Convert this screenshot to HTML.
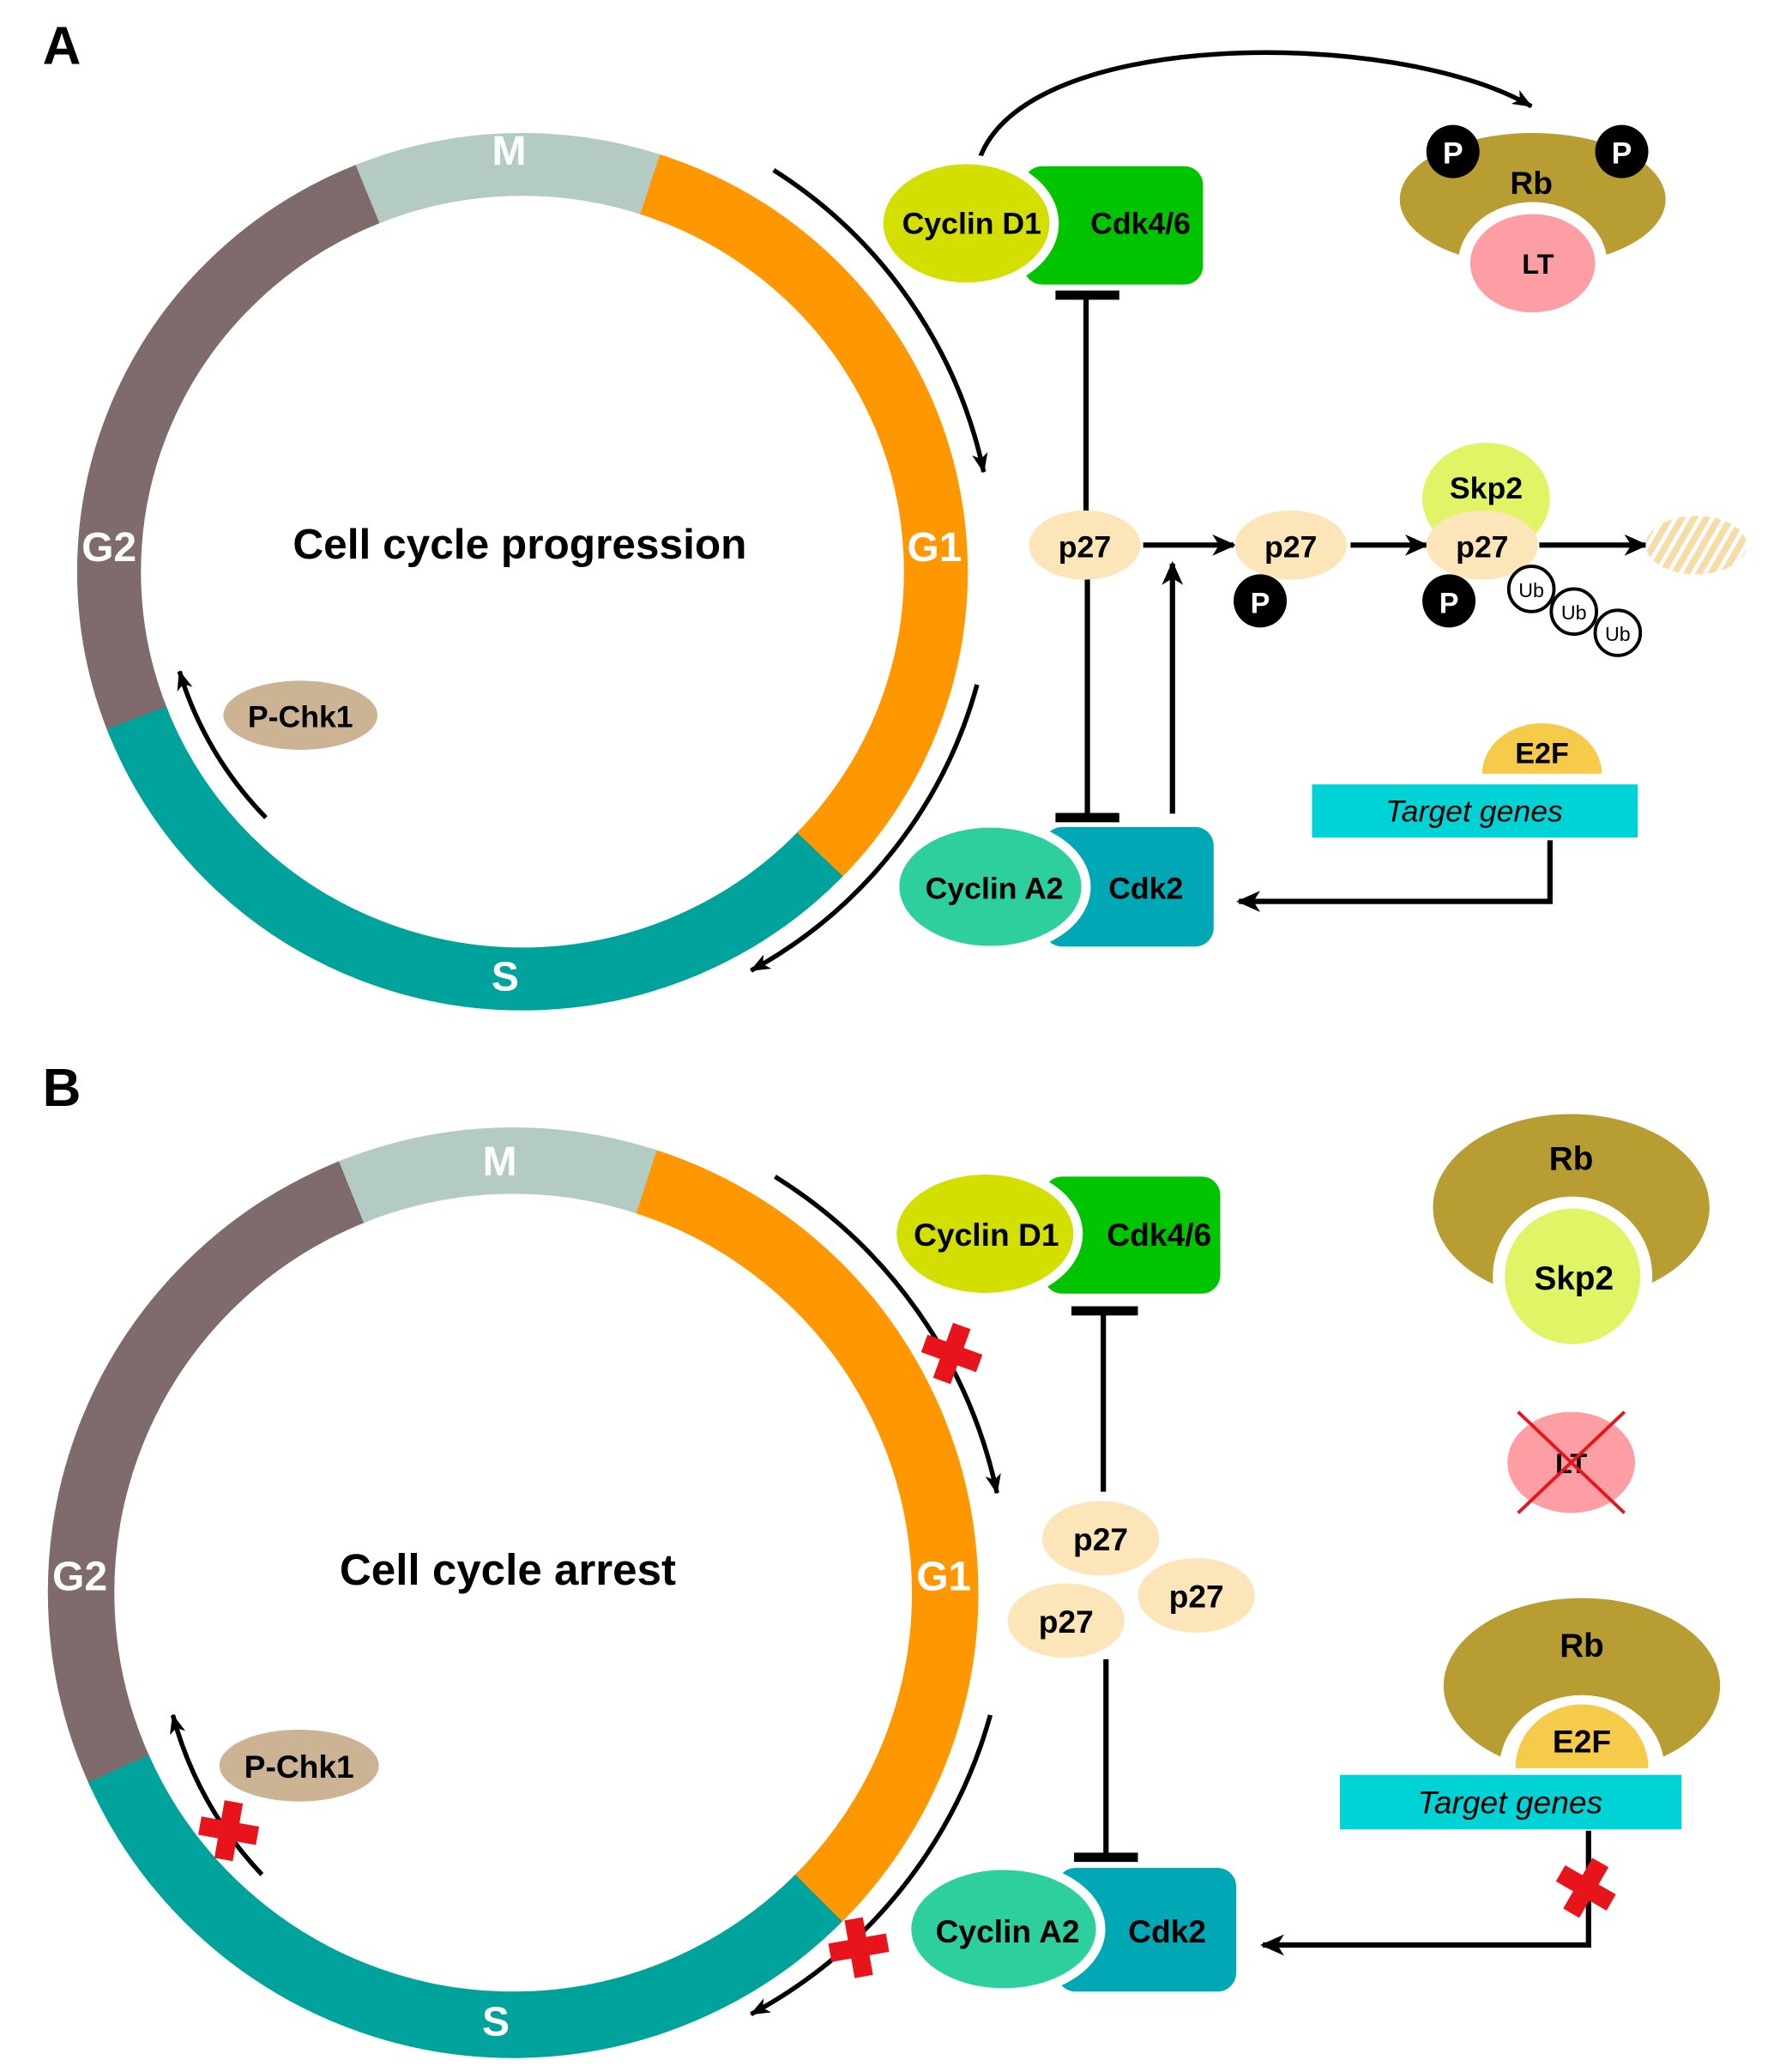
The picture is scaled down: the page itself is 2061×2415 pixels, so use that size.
<!DOCTYPE html>
<html><head><meta charset="utf-8"><style>
html,body{margin:0;padding:0;background:#fff;overflow:hidden;width:2061px;height:2415px}
svg{display:block}
text{font-family:"Liberation Sans",sans-serif;font-weight:bold}
</style></head><body>
<svg width="2061" height="2415" viewBox="0 0 1330 1558.5" xmlns="http://www.w3.org/2000/svg">
<defs>
<marker id="ah" markerUnits="userSpaceOnUse" markerWidth="22" markerHeight="22" refX="16" refY="8" orient="auto">
<path d="M0,0 L18,8 L0,16 L5,8 Z" fill="#000"/></marker>
<marker id="ah2" markerUnits="userSpaceOnUse" markerWidth="22" markerHeight="22" refX="14" refY="6" orient="auto">
<path d="M0,0 L15,6 L0,12 L4,6 Z" fill="#000"/></marker>
<pattern id="stripe" width="8" height="8" patternUnits="userSpaceOnUse" patternTransform="rotate(30)">
<rect width="8" height="8" fill="#fff"/><rect width="5" height="8" fill="#f8dca8"/></pattern>
<g id="xmark"><rect x="-7" y="-22" width="14" height="44" fill="#e8141c"/><rect x="-22" y="-7" width="44" height="14" fill="#e8141c"/></g>
</defs>
<rect width="1330" height="1558.5" fill="#fff"/>

<!-- ===== Panel A ===== -->
<text x="32" y="48" font-size="40">A</text>
<g fill="none" stroke-width="48" transform="translate(393 430) scale(1 0.985) translate(-393 -430)">
<circle cx="393" cy="430" r="311" pathLength="360" stroke="#7f6a6c" stroke-dasharray="91 360" transform="rotate(158 393 430)"/>
<circle cx="393" cy="430" r="311" pathLength="360" stroke="#00a39b" stroke-dasharray="116 360" transform="rotate(43 393 430)"/>
<circle cx="393" cy="430" r="311" pathLength="360" stroke="#ff9800" stroke-dasharray="117 360" transform="rotate(287 393 430)"/>
<circle cx="393" cy="430" r="311" pathLength="360" stroke="#b3cbc3" stroke-dasharray="40 360" transform="rotate(248 393 430)"/>
</g>
<g fill="#fff" font-size="31" text-anchor="middle">
<text x="383" y="124">M</text><text x="703" y="422">G1</text><text x="82" y="422">G2</text><text x="380" y="745">S</text></g>
<text x="391" y="420" font-size="32" text-anchor="middle">Cell cycle progression</text>
<g fill="none" stroke="#000" stroke-width="3.5">
<path d="M582,128 A356,356 0 0 1 740,355" marker-end="url(#ah2)"/>
<path d="M735,515 A350,350 0 0 1 565,730" marker-end="url(#ah2)"/>
<path d="M200,615 A268,268 0 0 1 135,505" marker-end="url(#ah2)"/>
<path d="M735,126 C760,20 1050,20 1152,80" marker-end="url(#ah2)"/>
</g>
<ellipse cx="226" cy="538" rx="58" ry="26" fill="#cbb394"/>
<text x="226" y="547" font-size="23" text-anchor="middle">P-Chk1</text>

<rect x="770" y="125" width="135" height="89" rx="14" fill="#00c400"/>
<ellipse cx="727" cy="168" rx="66" ry="48" fill="#d3df00" stroke="#fff" stroke-width="7"/>
<text x="731" y="176" font-size="23" text-anchor="middle">Cyclin D1</text>
<text x="858" y="176" font-size="23" text-anchor="middle">Cdk4/6</text>

<!-- Rb with LT -->
<ellipse cx="1153" cy="150" rx="100" ry="50" fill="#b89d33"/>
<ellipse cx="1153" cy="198" rx="56" ry="46" fill="#fff"/>
<ellipse cx="1153" cy="198" rx="47" ry="37" fill="#fd9ea4"/>
<text x="1157" y="206" font-size="21" text-anchor="middle">LT</text>
<text x="1152" y="146" font-size="24" text-anchor="middle">Rb</text>
<circle cx="1093" cy="114" r="20" fill="#000"/><circle cx="1220" cy="114" r="20" fill="#000"/>
<text x="1093" y="123" font-size="23" fill="#fff" text-anchor="middle">P</text>
<text x="1220" y="123" font-size="23" fill="#fff" text-anchor="middle">P</text>

<g stroke="#000" stroke-width="4" fill="none">
<line x1="817" y1="222" x2="817" y2="390"/><line x1="794" y1="222" x2="842" y2="222" stroke-width="7"/>
<line x1="818" y1="432" x2="818" y2="615"/><line x1="794" y1="615" x2="842" y2="615" stroke-width="7"/>
<line x1="882" y1="612" x2="882" y2="424" marker-end="url(#ah)"/>
<line x1="860" y1="410" x2="928" y2="410" marker-end="url(#ah)"/>
<line x1="1016" y1="410" x2="1073" y2="410" marker-end="url(#ah)"/>
<line x1="1158" y1="410" x2="1238" y2="410" marker-end="url(#ah)"/>
</g>
<ellipse cx="816" cy="410" rx="42" ry="26" fill="#fde5ba"/>
<text x="816" y="419" font-size="23" text-anchor="middle">p27</text>
<ellipse cx="971" cy="410" rx="42" ry="26" fill="#fde5ba"/>
<text x="971" y="419" font-size="23" text-anchor="middle">p27</text>
<circle cx="948" cy="452" r="20" fill="#000"/><text x="948" y="461" font-size="22" fill="#fff" text-anchor="middle">P</text>
<ellipse cx="1118" cy="375" rx="48" ry="42" fill="#e1f466"/>
<text x="1118" y="375" font-size="23" text-anchor="middle">Skp2</text>
<ellipse cx="1115" cy="410" rx="42" ry="26" fill="#fde5ba"/>
<text x="1115" y="419" font-size="23" text-anchor="middle">p27</text>
<circle cx="1090" cy="452" r="20" fill="#000"/><text x="1090" y="461" font-size="22" fill="#fff" text-anchor="middle">P</text>
<g fill="#fff" stroke="#000" stroke-width="2.5">
<circle cx="1152" cy="443" r="17"/><circle cx="1184" cy="460" r="17"/><circle cx="1217" cy="476" r="17"/></g>
<g font-size="15" text-anchor="middle">
<text x="1152" y="449" style="font-weight:normal">Ub</text><text x="1184" y="466" style="font-weight:normal">Ub</text><text x="1217" y="482" style="font-weight:normal">Ub</text></g>
<ellipse cx="1276" cy="410" rx="38" ry="22" fill="url(#stripe)"/>

<path d="M1115,582 A45,38 0 0 1 1205,582 Z" fill="#f6cb4a"/>
<text x="1160" y="574" font-size="22" text-anchor="middle">E2F</text>
<rect x="987" y="590" width="245" height="40" fill="#00d3d6"/>
<text x="1109" y="618" font-size="23" font-style="italic" text-anchor="middle" style="font-weight:normal">Target genes</text>
<path d="M1166,632 L1166,678 L932,678" fill="none" stroke="#000" stroke-width="4" marker-end="url(#ah)"/>

<rect x="785" y="622" width="128" height="90" rx="14" fill="#00a8b5"/>
<ellipse cx="745" cy="667" rx="72" ry="48" fill="#2ecf9f" stroke="#fff" stroke-width="7"/>
<text x="748" y="676" font-size="23" text-anchor="middle">Cyclin A2</text>
<text x="862" y="676" font-size="23" text-anchor="middle">Cdk2</text>

<!-- ===== Panel B ===== -->
<text x="32" y="832" font-size="40">B</text>
<g fill="none" stroke-width="50">
<circle cx="386" cy="1198" r="325" pathLength="360" stroke="#7f6a6c" stroke-dasharray="94 360" transform="rotate(155 386 1198)"/>
<circle cx="386" cy="1198" r="325" pathLength="360" stroke="#00a39b" stroke-dasharray="112 360" transform="rotate(44 386 1198)"/>
<circle cx="386" cy="1198" r="325" pathLength="360" stroke="#ff9800" stroke-dasharray="118 360" transform="rotate(287 386 1198)"/>
<circle cx="386" cy="1198" r="325" pathLength="360" stroke="#b3cbc3" stroke-dasharray="40 360" transform="rotate(248 386 1198)"/>
</g>
<g fill="#fff" font-size="31" text-anchor="middle">
<text x="376" y="884">M</text><text x="710" y="1196">G1</text><text x="60" y="1196">G2</text><text x="373" y="1531">S</text></g>
<text x="382" y="1192" font-size="33" text-anchor="middle">Cell cycle arrest</text>
<g fill="none" stroke="#000" stroke-width="3.5">
<path d="M583,885 A371,371 0 0 1 750,1123" marker-end="url(#ah2)"/>
<path d="M745,1290 A367,367 0 0 1 565,1515" marker-end="url(#ah2)"/>
<path d="M197,1410 A278,278 0 0 1 130,1290" marker-end="url(#ah2)"/>
</g>
<use href="#xmark" transform="translate(716,1018) rotate(20)"/>
<use href="#xmark" transform="translate(646,1465) rotate(-10)"/>
<use href="#xmark" transform="translate(172,1377) rotate(10)"/>
<ellipse cx="225" cy="1328" rx="60" ry="27" fill="#cbb394"/>
<text x="225" y="1337" font-size="24" text-anchor="middle">P-Chk1</text>

<rect x="785" y="885" width="133" height="88" rx="14" fill="#00c400"/>
<ellipse cx="741" cy="928" rx="70" ry="48" fill="#d3df00" stroke="#fff" stroke-width="7"/>
<text x="742" y="937" font-size="24" text-anchor="middle">Cyclin D1</text>
<text x="872" y="937" font-size="24" text-anchor="middle">Cdk4/6</text>

<g stroke="#000" stroke-width="4">
<line x1="830" y1="986" x2="830" y2="1122"/><line x1="806" y1="986" x2="856" y2="986" stroke-width="7"/>
<line x1="832" y1="1248" x2="832" y2="1397"/><line x1="808" y1="1397" x2="856" y2="1397" stroke-width="7"/>
</g>
<ellipse cx="828" cy="1157" rx="44" ry="28" fill="#fde5ba"/><text x="828" y="1166" font-size="24" text-anchor="middle">p27</text>
<ellipse cx="900" cy="1200" rx="44" ry="28" fill="#fde5ba"/><text x="900" y="1209" font-size="24" text-anchor="middle">p27</text>
<ellipse cx="802" cy="1219" rx="44" ry="28" fill="#fde5ba"/><text x="802" y="1228" font-size="24" text-anchor="middle">p27</text>

<rect x="795" y="1405" width="135" height="93" rx="14" fill="#00a8b5"/>
<ellipse cx="755" cy="1451" rx="73" ry="48" fill="#2ecf9f" stroke="#fff" stroke-width="7"/>
<text x="758" y="1461" font-size="24" text-anchor="middle">Cyclin A2</text>
<text x="878" y="1461" font-size="24" text-anchor="middle">Cdk2</text>

<!-- Rb + Skp2 -->
<ellipse cx="1182" cy="908" rx="104" ry="70" fill="#b89d33"/>
<circle cx="1183" cy="960" r="60" fill="#fff"/>
<circle cx="1183" cy="960" r="51" fill="#e1f466"/>
<text x="1182" y="880" font-size="25" text-anchor="middle">Rb</text>
<text x="1184" y="970" font-size="25" text-anchor="middle">Skp2</text>

<ellipse cx="1182" cy="1100" rx="48" ry="38" fill="#fd9ea4"/>
<text x="1182" y="1108" font-size="21" text-anchor="middle">LT</text>
<line x1="1142" y1="1062" x2="1222" y2="1138" stroke="#e8141c" stroke-width="2.5"/>
<line x1="1222" y1="1062" x2="1142" y2="1138" stroke="#e8141c" stroke-width="2.5"/>

<!-- Rb + E2F -->
<ellipse cx="1190" cy="1268" rx="104" ry="66" fill="#b89d33"/>
<ellipse cx="1190" cy="1330" rx="62" ry="55" fill="#fff"/>
<path d="M1140,1330 A50,48 0 0 1 1240,1330 Z" fill="#f6cb4a"/>
<text x="1190" y="1246" font-size="25" text-anchor="middle">Rb</text>
<text x="1190" y="1318" font-size="24" text-anchor="middle">E2F</text>
<rect x="1000" y="1330" width="275" height="50" fill="#fff"/>
<rect x="1008" y="1335" width="257" height="41" fill="#00d3d6"/>
<text x="1136" y="1364" font-size="24" font-style="italic" text-anchor="middle" style="font-weight:normal">Target genes</text>
<path d="M1195,1377 L1195,1463 L950,1463" fill="none" stroke="#000" stroke-width="4" marker-end="url(#ah)"/>
<use href="#xmark" transform="translate(1193,1420) rotate(30)"/>
</svg>
</body></html>
